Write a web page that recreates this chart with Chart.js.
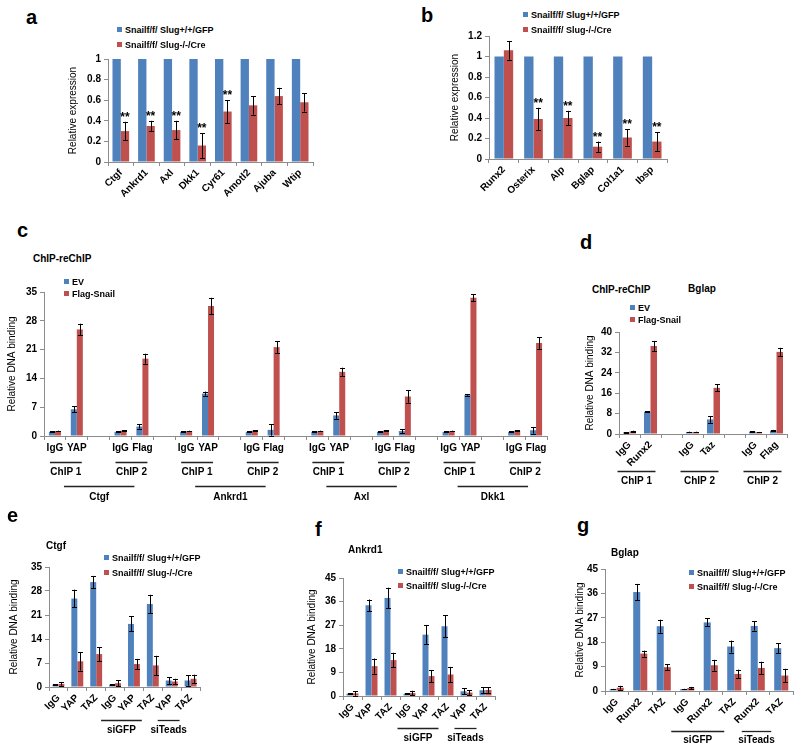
<!DOCTYPE html>
<html>
<head>
<meta charset="utf-8">
<script src="https://cdn.jsdelivr.net/npm/chart.js@4.4.0/dist/chart.umd.min.js"></script>
<style>
  body { margin: 0; background: #fff; font-family: "Liberation Sans", Arial, sans-serif; }
  #fig { position: relative; width: 800px; height: 751px; overflow: hidden; background: #fff; }
  #fig canvas { position: absolute; }
  .txt { position: absolute; font-weight: bold; white-space: nowrap; color: #000; }
  .leg { position: absolute; font-size: 9px; font-weight: bold; white-space: nowrap; line-height: 12px; color: #000; }
  .leg i { display: inline-block; width: 5px; height: 5px; margin-right: 3px; vertical-align: 1px; }
</style>
</head>
<body>
<div id="fig"></div>
<script>
// series names
const koNames = ["Snailf/f/ Slug+/+/GFP", "Snailf/f/ Slug-/-/Cre"];
const chipNames = ["EV", "Flag-Snail"];

// a - relative expression, YAP/TAZ targets
const aGenes = ["Ctgf", "Ankrd1", "Axl", "Dkk1", "Cyr61", "Amotl2", "Ajuba", "Wtip"];
const aGFP = [1, 1, 1, 1, 1, 1, 1, 1];
const aCre = [0.30, 0.35, 0.31, 0.16, 0.49, 0.55, 0.64, 0.58];
const aCreErr = [0.09, 0.05, 0.09, 0.12, 0.11, 0.09, 0.08, 0.09];
const aStars = [1, 1, 1, 1, 1, 0, 0, 0];

// b - relative expression, osteoblast genes
const bGenes = ["Runx2", "Osterix", "Alp", "Bglap", "Col1a1", "Ibsp"];
const bGFP = [1, 1, 1, 1, 1, 1];
const bCre = [1.06, 0.39, 0.40, 0.12, 0.21, 0.17];
const bCreErr = [0.09, 0.11, 0.07, 0.05, 0.08, 0.09];
const bStars = [0, 1, 1, 1, 1, 1];

// c - ChIP-reChIP (blank categories separate the pairs)
const cLabels = ["IgG", "YAP", "", "IgG", "Flag", "", "IgG", "YAP", "", "IgG", "Flag", "",
                 "IgG", "YAP", "", "IgG", "Flag", "", "IgG", "YAP", "", "IgG", "Flag"];
const cEV = [1.0, 6.5, null, 1.0, 2.3, null, 1.0, 10.3, null, 1.0, 1.5, null,
             1.0, 5.0, null, 1.0, 1.2, null, 1.0, 10.0, null, 1.0, 1.4];
const cEVErr = [0.1, 0.7, null, 0.1, 0.5, null, 0.1, 0.5, null, 0.1, 1.4, null,
                0.1, 0.8, null, 0.1, 0.5, null, 0.1, 0.2, null, 0.1, 0.8];
const cSnail = [1.2, 25.9, null, 1.3, 18.8, null, 1.2, 31.6, null, 1.3, 21.6, null,
                1.2, 15.6, null, 1.3, 9.6, null, 1.2, 33.6, null, 1.3, 22.6];
const cSnailErr = [0.1, 1.4, null, 0.1, 1.2, null, 0.1, 2.0, null, 0.1, 1.4, null,
                   0.1, 1.0, null, 0.1, 1.5, null, 0.1, 0.8, null, 0.1, 1.4];
const cChip = [[0, 1, "ChIP 1"], [3, 4, "ChIP 2"], [6, 7, "ChIP 1"], [9, 10, "ChIP 2"],
               [12, 13, "ChIP 1"], [15, 16, "ChIP 2"], [18, 19, "ChIP 1"], [21, 22, "ChIP 2"]];
const cGenes = [[0, 4, "Ctgf"], [6, 10, "Ankrd1"], [12, 16, "Axl"], [18, 22, "Dkk1"]];

// d - ChIP-reChIP on Bglap
const dLabels = ["IgG", "Runx2", "", "IgG", "Taz", "", "IgG", "Flag"];
const dEV = [0.6, 8.7, null, 0.8, 5.7, null, 0.9, 1.3];
const dEVErr = [0.1, 0.2, null, 0.1, 1.3, null, 0.1, 0.3];
const dSnail = [1.0, 34.5, null, 0.8, 18.1, null, 0.7, 32.2];
const dSnailErr = [0.3, 2.0, null, 0.1, 1.4, null, 0.1, 1.6];
const dChip = [[0, 1, "ChIP 1"], [3, 4, "ChIP 2"], [6, 7, "ChIP 2"]];

// e, f, g - ChIP with siRNA
const siLabels = ["IgG", "YAP", "TAZ", "IgG", "YAP", "TAZ", "YAP", "TAZ"];
const siGroups = [[3, 5, "siGFP"], [6, 7, "siTeads"]];

const eGFP = [0.7, 25.8, 30.6, 0.7, 18.4, 24.2, 1.9, 1.9];
const eGFPErr = [0.1, 2.6, 1.8, 0.1, 2.2, 2.7, 1.0, 1.5];
const eCre = [0.9, 7.5, 9.6, 1.1, 6.7, 6.3, 1.6, 2.4];
const eCreErr = [0.5, 2.7, 2.0, 0.9, 1.5, 2.8, 0.8, 1.2];

const fGFP = [0.9, 34.6, 37.4, 0.9, 23.4, 26.6, 1.8, 2.2];
const fGFPErr = [0.1, 2.2, 3.9, 0.1, 3.5, 4.2, 1.1, 1.1];
const fCre = [1.0, 11.4, 13.7, 1.1, 7.6, 8.2, 1.3, 2.3];
const fCreErr = [0.9, 2.9, 2.8, 0.9, 2.3, 2.9, 0.8, 1.1];

const gLabels = ["IgG", "Runx2", "TAZ", "IgG", "Runx2", "TAZ", "Runx2", "TAZ"];
const gGFP = [0.7, 36.5, 23.9, 0.7, 25.3, 16.4, 24.0, 15.8];
const gGFPErr = [0.1, 3.0, 2.4, 0.1, 1.5, 2.2, 1.7, 1.8];
const gCre = [1.2, 13.8, 8.8, 1.1, 9.5, 6.3, 8.5, 5.7];
const gCreErr = [0.7, 1.1, 1.1, 0.4, 2.0, 1.6, 2.3, 2.5];

const BLUE = "#4F81BD";
const RED = "#C0504D";
const AXIS = "#8c8c8c";
const FONT = "'Liberation Sans', Arial, sans-serif";

Chart.defaults.font.family = FONT;
Chart.defaults.color = "#000";

const fig = document.getElementById("fig");

// error bars + significance stars, drawn from the data through the y scale
const errorBars = {
  id: "errorBars",
  afterDatasetsDraw(chart) {
    const ctx = chart.ctx;
    const y = chart.scales.y;
    chart.data.datasets.forEach((ds, di) => {
      const meta = chart.getDatasetMeta(di);
      meta.data.forEach((bar, i) => {
        const v = ds.data[i];
        if (v == null) return;
        const e = ds.errors ? ds.errors[i] : null;
        let top = bar.y;
        ctx.save();
        if (e != null) {
          const y1 = y.getPixelForValue(v + e);
          const y2 = y.getPixelForValue(Math.max(v - e, 0));
          const x = Math.round(bar.x) + 0.5;
          ctx.strokeStyle = "#000";
          ctx.lineWidth = 1;
          ctx.beginPath();
          ctx.moveTo(x, y1); ctx.lineTo(x, y2);
          ctx.moveTo(x - 2.5, Math.round(y1) + 0.5); ctx.lineTo(x + 2.5, Math.round(y1) + 0.5);
          ctx.moveTo(x - 2.5, Math.round(y2) + 0.5); ctx.lineTo(x + 2.5, Math.round(y2) + 0.5);
          ctx.stroke();
          top = y1;
        }
        if (ds.stars && ds.stars[i]) {
          ctx.fillStyle = "#000";
          ctx.font = "bold 12px " + FONT;
          ctx.textAlign = "center";
          ctx.textBaseline = "alphabetic";
          ctx.fillText("**", bar.x, top - 1);
        }
        ctx.restore();
      });
    });
  }
};

// underlines with labels below the category axis
function groupLines(rows) {
  return {
    id: "groupLines",
    afterDraw(chart) {
      const ctx = chart.ctx;
      const x = chart.scales.x;
      const base = chart.chartArea.bottom;
      ctx.save();
      rows.forEach(row => {
        row.groups.forEach(([a, b, text]) => {
          const x0 = x.getPixelForValue(a) + row.padL;
          const x1 = x.getPixelForValue(b) + row.padR;
          const ly = Math.round(base + row.lineDy) + 0.5;
          ctx.strokeStyle = "#222";
          ctx.lineWidth = 1.3;
          ctx.beginPath();
          ctx.moveTo(x0, ly); ctx.lineTo(x1, ly);
          ctx.stroke();
          ctx.fillStyle = "#000";
          ctx.font = "bold 10px " + FONT;
          ctx.textAlign = "center";
          ctx.textBaseline = "middle";
          ctx.fillText(text, (x0 + x1) / 2, base + row.textDy);
        });
      });
      ctx.restore();
    }
  };
}

function makePanel(p) {
  const padTop = 12, padRight = 8;
  const yW = p.l - p.titleX + 6;
  const cv = document.createElement("canvas");
  const w = yW + (p.r - p.l) + padRight;
  const h = padTop + (p.b - p.t) + p.xH;
  cv.width = w; cv.height = h;
  cv.style.width = w + "px"; cv.style.height = h + "px";
  cv.style.left = (p.l - yW) + "px";
  cv.style.top = (p.t - padTop) + "px";
  fig.appendChild(cv);

  const tickFont = { size: 10, weight: "bold", family: FONT };
  new Chart(cv, {
    type: "bar",
    data: {
      labels: p.labels,
      datasets: [
        { label: p.names[0], data: p.s1, errors: p.e1, backgroundColor: BLUE,
          barPercentage: 1, categoryPercentage: p.cat },
        { label: p.names[1], data: p.s2, errors: p.e2, stars: p.stars, backgroundColor: RED,
          barPercentage: 1, categoryPercentage: p.cat }
      ]
    },
    options: {
      responsive: false,
      animation: false,
      devicePixelRatio: 1,
      layout: { padding: { top: padTop, right: padRight, left: 0, bottom: 0 } },
      plugins: { legend: { display: false }, tooltip: { enabled: false } },
      scales: {
        x: {
          grid: { display: true, drawOnChartArea: false, drawTicks: true, tickLength: 4, color: AXIS },
          border: { color: AXIS },
          ticks: { autoSkip: false, maxRotation: p.rot, minRotation: p.rot, color: "#000",
                   font: tickFont, padding: p.rot ? 1 : 2 },
          afterFit: s => { s.height = p.xH; }
        },
        y: {
          min: 0, max: p.max,
          grid: { drawOnChartArea: false, drawTicks: true, tickLength: 4, color: AXIS },
          border: { color: AXIS },
          ticks: { stepSize: p.step, color: "#000", font: tickFont, padding: 3,
                   callback: v => String(+v.toFixed(2)) },
          title: { display: true, text: p.ytitle, padding: 0, color: "#000",
                   font: { size: 10, family: FONT } },
          afterFit: s => { s.width = yW; }
        }
      }
    },
    plugins: [errorBars, groupLines(p.rows || [])]
  });
}

function addText(text, x, y, size, align) {
  const d = document.createElement("div");
  d.className = "txt";
  d.textContent = text;
  d.style.fontSize = size + "px";
  d.style.lineHeight = Math.round(size * 1.2) + "px";
  d.style.top = (y - Math.round(size * 0.6)) + "px";
  d.style.left = x + "px";
  if (align === "center") d.style.transform = "translateX(-50%)";
  fig.appendChild(d);
}

function addLegend(names, x, y1, y2) {
  [[names[0], BLUE, y1], [names[1], RED, y2]].forEach(([n, c, y]) => {
    const d = document.createElement("div");
    d.className = "leg";
    d.style.left = x + "px";
    d.style.top = (y - 6) + "px";
    const sw = document.createElement("i");
    sw.style.background = c;
    d.appendChild(sw);
    d.appendChild(document.createTextNode(n));
    fig.appendChild(d);
  });
}

// panels
makePanel({ l: 108, r: 313, t: 59, b: 162, titleX: 73, xH: 40, rot: 45, cat: 0.65,
  max: 1, step: 0.2, ytitle: "Relative expression", labels: aGenes, names: koNames,
  s1: aGFP, e1: null, s2: aCre, e2: aCreErr, stars: aStars });

makePanel({ l: 489, r: 667, t: 36, b: 159, titleX: 455, xH: 40, rot: 45, cat: 0.63,
  max: 1.2, step: 0.2, ytitle: "Relative expression", labels: bGenes, names: koNames,
  s1: bGFP, e1: null, s2: bCre, e2: bCreErr, stars: bStars });

makePanel({ l: 44, r: 547, t: 292, b: 436, titleX: 12, xH: 68, rot: 0, cat: 0.55,
  max: 35, step: 7, ytitle: "Relative DNA binding", labels: cLabels, names: chipNames,
  s1: cEV, e1: cEVErr, s2: cSnail, e2: cSnailErr,
  rows: [{ groups: cChip, lineDy: 26, textDy: 36, padL: -5, padR: 5 },
         { groups: cGenes, lineDy: 50, textDy: 61, padL: 9, padR: -8 }] });

makePanel({ l: 619, r: 787, t: 332, b: 434, titleX: 590, xH: 54, rot: 45, cat: 0.62,
  max: 40, step: 8, ytitle: "Relative DNA binding", labels: dLabels, names: chipNames,
  s1: dEV, e1: dEVErr, s2: dSnail, e2: dSnailErr,
  rows: [{ groups: dChip, lineDy: 37, textDy: 47, padL: -12, padR: 5 }] });

makePanel({ l: 49, r: 200, t: 567, b: 687, titleX: 14, xH: 50, rot: 45, cat: 0.63,
  max: 35, step: 7, ytitle: "Relative DNA binding", labels: siLabels, names: koNames,
  s1: eGFP, e1: eGFPErr, s2: eCre, e2: eCreErr,
  rows: [{ groups: siGroups, lineDy: 33, textDy: 43, padL: -14, padR: -11 }] });

makePanel({ l: 343, r: 495, t: 578, b: 696, titleX: 312, xH: 50, rot: 45, cat: 0.63,
  max: 45, step: 9, ytitle: "Relative DNA binding", labels: siLabels, names: koNames,
  s1: fGFP, e1: fGFPErr, s2: fCre, e2: fCreErr,
  rows: [{ groups: siGroups, lineDy: 32, textDy: 42, padL: -12, padR: -9 }] });

makePanel({ l: 605, r: 793, t: 569, b: 691, titleX: 580, xH: 56, rot: 45, cat: 0.6,
  max: 45, step: 9, ytitle: "Relative DNA binding", labels: gLabels, names: koNames,
  s1: gGFP, e1: gGFPErr, s2: gCre, e2: gCreErr,
  rows: [{ groups: siGroups, lineDy: 40, textDy: 49, padL: -16, padR: -10 }] });

// panel letters
addText("a", 26, 17, 20);
addText("b", 421, 15, 20);
addText("c", 17, 230, 20);
addText("d", 580, 242, 20);
addText("e", 7, 515, 20);
addText("f", 315, 529, 20);
addText("g", 577, 525, 20);

// sub titles
addText("ChIP-reChIP", 33, 259, 10);
addText("ChIP-reChIP", 592, 290, 10);
addText("Bglap", 702, 289, 10, "center");
addText("Ctgf", 46, 546, 10);
addText("Ankrd1", 348, 550, 10);
addText("Bglap", 611, 553, 10);

// legends
addLegend(koNames, 117, 30, 45);
addLegend(koNames, 523, 15, 30);
addLegend(chipNames, 64, 282, 294);
addLegend(chipNames, 630, 308, 320);
addLegend(koNames, 104, 558, 573);
addLegend(koNames, 398, 572, 586);
addLegend(koNames, 689, 573, 587);
</script>
</body>
</html>
